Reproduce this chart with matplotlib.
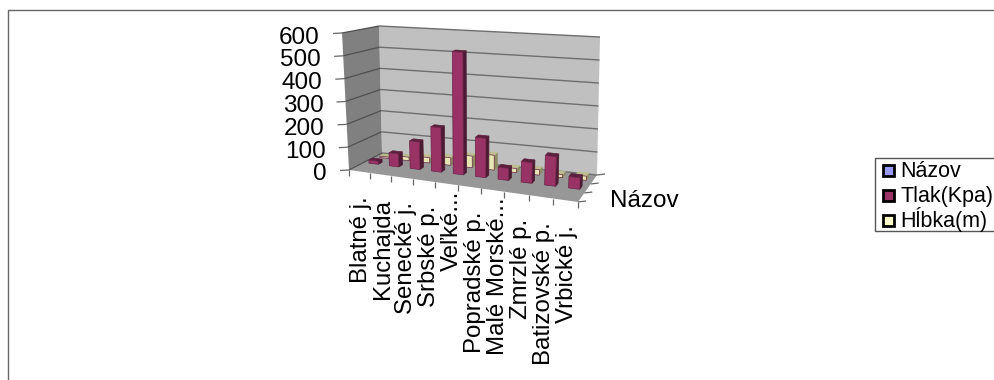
import matplotlib
matplotlib.use("Agg")
import matplotlib.pyplot as plt
import numpy as np
from matplotlib.patches import Polygon, Rectangle

plt.rcParams["font.family"] = ["Liberation Sans", "DejaVu Sans"]

# Chart data
categories = ["Blatné j.", "Kuchajda", "Senecké j.", "Srbské p.", "Veľké...",
              "Popradské p.", "Malé Morské...", "Zmrzlé p.", "Batizovské p.", "Vrbické j."]
tlak_kpa = [14, 58, 122, 195, 535, 170, 52, 88, 125, 48]
hlbka_m = [6, 16, 24, 34, 52, 66, 18, 24, 14, 18]
y_ticks = [0, 100, 200, 300, 400, 500, 600]
y_max = 600
legend_labels = ["Názov", "Tlak(Kpa)", "Hĺbka(m)"]
legend_colors = ["#9999FF", "#993366", "#FFFFCC"]
axis_title = "Názov"

W, H = 995, 380
fig = plt.figure(figsize=(W / 100, H / 100), dpi=100)
ax = fig.add_axes([0, 0, 1, 1])
ax.set_xlim(0, W)
ax.set_ylim(H, 0)
ax.axis("off")

# Corners of the oblique plot box: (across, depth, height) -> canvas position
BOX = {
    (0, 0, 0): (349, 170), (1, 0, 0): (578, 202),
    (0, 1, 0): (382, 153), (1, 1, 0): (597, 175),
    (0, 0, 1): (342, 33), (1, 0, 1): (585, 54),
    (0, 1, 1): (379, 26), (1, 1, 1): (600, 37),
}


def project(u, d, h):
    """Trilinear blend of the box corners, with foreshortening across the box."""
    u = u - 0.1 * u * (1 - u)
    x = y = 0.0
    for (a, b, c), (px, py) in BOX.items():
        w = (u if a else 1 - u) * (d if b else 1 - d) * (h if c else 1 - h)
        x += w * px
        y += w * py
    return x, y


def face(points, color, z, edge=None, lw=0.0):
    ax.add_patch(Polygon([project(*p) for p in points], closed=True, facecolor=color,
                         edgecolor=edge if edge else color, linewidth=lw, zorder=z))


def seg(a, b, color="#666666", lw=1.0, z=2):
    (x0, y0), (x1, y1) = a, b
    ax.plot([x0, x1], [y0, y1], color=color, lw=lw, zorder=z, solid_capstyle="butt")


# Walls and floor
face([(0, 1, 0), (1, 1, 0), (1, 1, 1), (0, 1, 1)], "#C0C0C0", 1)
face([(0, 0, 0), (0, 1, 0), (0, 1, 1), (0, 0, 1)], "#808080", 1)
face([(0, 0, 0), (1, 0, 0), (1, 1, 0), (0, 1, 0)], "#979797", 1)

# Gridlines on both walls, with value ticks on the outer edge
for v in y_ticks:
    h = v / y_max
    seg(project(0, 1, h), project(1, 1, h), "#6E6E6E", 1.0)
    seg(project(0, 0, h), project(0, 1, h), "#505050", 0.9)
    x0, y0 = project(0, 0, h)
    seg((x0 - 9, y0 + 0.5), (x0, y0), "#666666", 0.9)
    ax.text(x0 - 22, y0 + 4.5, str(v), fontsize=17.5, ha="right", va="center", color="#000000")

# Category ticks along the front edge of the floor
for k in range(len(categories) + 1):
    x0, y0 = project(k / len(categories), 0, 0)
    seg((x0, y0), (x0, y0 + 6), "#666666", 0.9)
# Depth ticks along the right edge of the floor
for k in range(4):
    x0, y0 = project(1, k / 3, 0)
    seg((x0, y0), (x0 + 8, y0 - 1), "#666666", 0.9)


def draw_bar(i, value, depth, front, side, top, z):
    n = len(categories)
    uc = (i + 0.5) / n
    hw, hd = 0.023, 0.06
    h = value / y_max
    u0, u1, d0, d1 = uc - hw, uc + hw, depth - hd, depth + hd
    face([(u1, d0, 0), (u1, d1, 0), (u1, d1, h), (u1, d0, h)], side, z, side, 0.5)
    face([(u0, d0, h), (u1, d0, h), (u1, d1, h), (u0, d1, h)], top, z, top, 0.5)
    face([(u0, d0, 0), (u1, d0, 0), (u1, d0, h), (u0, d0, h)], front, z + 0.1, "#6B2347", 0.5)


# Series sit one behind the other, farthest first
for i, v in enumerate(hlbka_m):
    draw_bar(i, v, 5 / 6, "#E6E6B4", "#8C8C60", "#BDBD90", 3 + i * 0.01)
for i, v in enumerate(tlak_kpa):
    draw_bar(i, v, 3 / 6, "#993366", "#4D1A33", "#5A1F3C", 4 + i * 0.01)

# Rotated category labels ending a fixed distance below the front edge
n = len(categories)
for i, name in enumerate(categories):
    _, y_edge = project((i + 0.5) / n, 0, 0)
    gap = 7 if name.endswith("...") else 25
    ax.text(360.5 + (566.5 - 360.5) * i / (n - 1), y_edge + gap, name, rotation=90, fontsize=17.3,
            ha="center", va="top", color="#000000")

ax.text(644, 201, axis_title, fontsize=17.5, ha="center", va="center", color="#000000")

# Legend block
ax.add_patch(Rectangle((875, 158), 130, 73, facecolor="white", edgecolor="#555555", lw=1, zorder=5))
for j, (label, col) in enumerate(zip(legend_labels, legend_colors)):
    yc = 170.5 + 25 * j
    ax.add_patch(Rectangle((883, yc - 5.5), 11, 11, facecolor=col, edgecolor="black", lw=2, zorder=6))
    ax.text(900.5, yc + 6.5, label, fontsize=15.5, ha="left", va="baseline", color="#000000", zorder=6)

# Outer frame of the chart area
ax.plot([7.5, 7.5, 1000], [400, 9.5, 9.5], color="#666666", lw=1, zorder=0)

fig.savefig("out.png", dpi=100, facecolor="white")
